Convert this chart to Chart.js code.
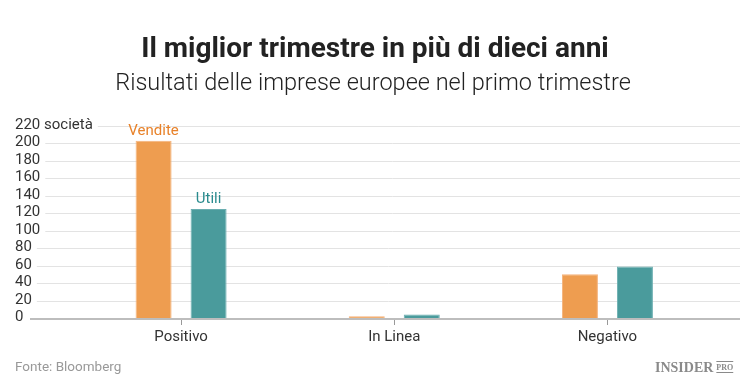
<!DOCTYPE html>
<html><head><meta charset="utf-8">
<script src="https://cdn.jsdelivr.net/npm/chart.js@4/dist/chart.umd.min.js"></script>
<style>html,body{margin:0;padding:0;background:#fff}#wrap{width:750px;height:380px}</style>
</head><body><div id="wrap"><canvas id="c" width="750" height="380"></canvas></div>
<script>
const categories = ["Positivo", "In Linea", "Negativo"];
const vendite = [203, 2, 50];
const utili = [125, 4, 59];
const yTicks = [0, 20, 40, 60, 80, 100, 120, 140, 160, 180, 200, 220];
const yTopLabel = "220 società";
const seriesNames = ["Vendite", "Utili"];
const titleText = "Il miglior trimestre in più di dieci anni";
const subtitleText = "Risultati delle imprese europee nel primo trimestre";
const sourceText = "Fonte: Bloomberg";

const ORANGE = "#ee9d50", ORANGE_B = "#f4b27a", ORANGE_T = "#e8822a";
const TEAL = "#4a9b9c", TEAL_B = "#6aaeb0", TEAL_T = "#2a8b8e";
const FONT = "Roboto, 'Noto Sans', sans-serif";

const deco = {
  id: 'deco',
  beforeDatasetsDraw(chart) {
    const ctx = chart.ctx, y = chart.scales.y;
    ctx.save();
    ctx.font = "15px " + FONT;
    ctx.textBaseline = "middle";
    ctx.textAlign = "left";
    yTicks.forEach(v => {
      const py = Math.round(y.getPixelForValue(v));
      const lbl = v === 220 ? yTopLabel : String(v);
      ctx.fillStyle = "#333";
      ctx.fillText(lbl, 15, py - 1);
      if (v !== 0) {
        const w = ctx.measureText(lbl).width;
        ctx.strokeStyle = "#e3e3e3";
        ctx.lineWidth = 1;
        ctx.beginPath();
        ctx.moveTo(15 + w + 5, py + 0.5);
        ctx.lineTo(740, py + 0.5);
        ctx.stroke();
      }
    });
    ctx.restore();
  },
  afterDatasetsDraw(chart) {
    const ctx = chart.ctx, y = chart.scales.y;
    ctx.save();
    const py = Math.round(y.getPixelForValue(0));
    ctx.strokeStyle = "#bdbdbd";
    ctx.lineWidth = 2;
    ctx.beginPath();
    ctx.moveTo(30, py + 1);
    ctx.lineTo(740, py + 1);
    ctx.stroke();
    ctx.font = "15px " + FONT;
    ctx.textAlign = "center";
    ctx.textBaseline = "bottom";
    const m0 = chart.getDatasetMeta(0).data[0];
    const m1 = chart.getDatasetMeta(1).data[0];
    ctx.fillStyle = ORANGE_T;
    ctx.fillText(seriesNames[0], m0.x, m0.y - 2);
    ctx.fillStyle = TEAL_T;
    ctx.fillText(seriesNames[1], m1.x, m1.y - 2);
    ctx.restore();
  },
  afterDraw(chart) {
    const ctx = chart.ctx;
    ctx.save();
    ctx.textAlign = "center";
    ctx.textBaseline = "alphabetic";
    ctx.fillStyle = "#222";
    ctx.font = "bold 28px " + FONT;
    ctx.fillText(titleText, 375, 57);
    ctx.font = "300 23.5px " + FONT;
    ctx.fillText(subtitleText, 373, 90);
    ctx.textAlign = "left";
    ctx.fillStyle = "#999";
    ctx.font = "13.5px " + FONT;
    ctx.fillText(sourceText, 15, 371);
    // logo
    ctx.fillStyle = "#8a8a8a";
    ctx.font = "bold 14px 'Liberation Serif', serif";
    ctx.fillText("INSIDER", 655, 372);
    const w = ctx.measureText("INSIDER").width;
    ctx.font = "bold 8px 'Liberation Serif', serif";
    const x2 = 658 + w;
    ctx.fillText("PRO", x2, 370);
    const w2 = ctx.measureText("PRO").width;
    ctx.fillRect(x2, 361, w2, 1);
    ctx.fillRect(x2, 372, w2, 1);
    ctx.restore();
  }
};

new Chart(document.getElementById('c'), {
  type: 'bar',
  data: {
    labels: categories,
    datasets: [
      { label: seriesNames[0], data: vendite, backgroundColor: ORANGE, borderColor: ORANGE_B, borderWidth: 1,
        categoryPercentage: 0.516, barPercentage: 0.655 },
      { label: seriesNames[1], data: utili, backgroundColor: TEAL, borderColor: TEAL_B, borderWidth: 1,
        categoryPercentage: 0.516, barPercentage: 0.655 }
    ]
  },
  options: {
    responsive: false,
    animation: false,
    layout: { padding: { left: 74.5, right: 36, top: 126, bottom: 31 } },
    plugins: { legend: { display: false }, tooltip: { enabled: false }, title: { display: false } },
    scales: {
      x: {
        grid: { drawOnChartArea: false, tickLength: 7, color: "#999", offset: false },
        border: { display: false },
        ticks: { color: "#333", font: { family: FONT, size: 15 }, padding: 3 }
      },
      y: { display: false, min: 0, max: 220 }
    }
  },
  plugins: [deco]
});
</script>
</body></html>
